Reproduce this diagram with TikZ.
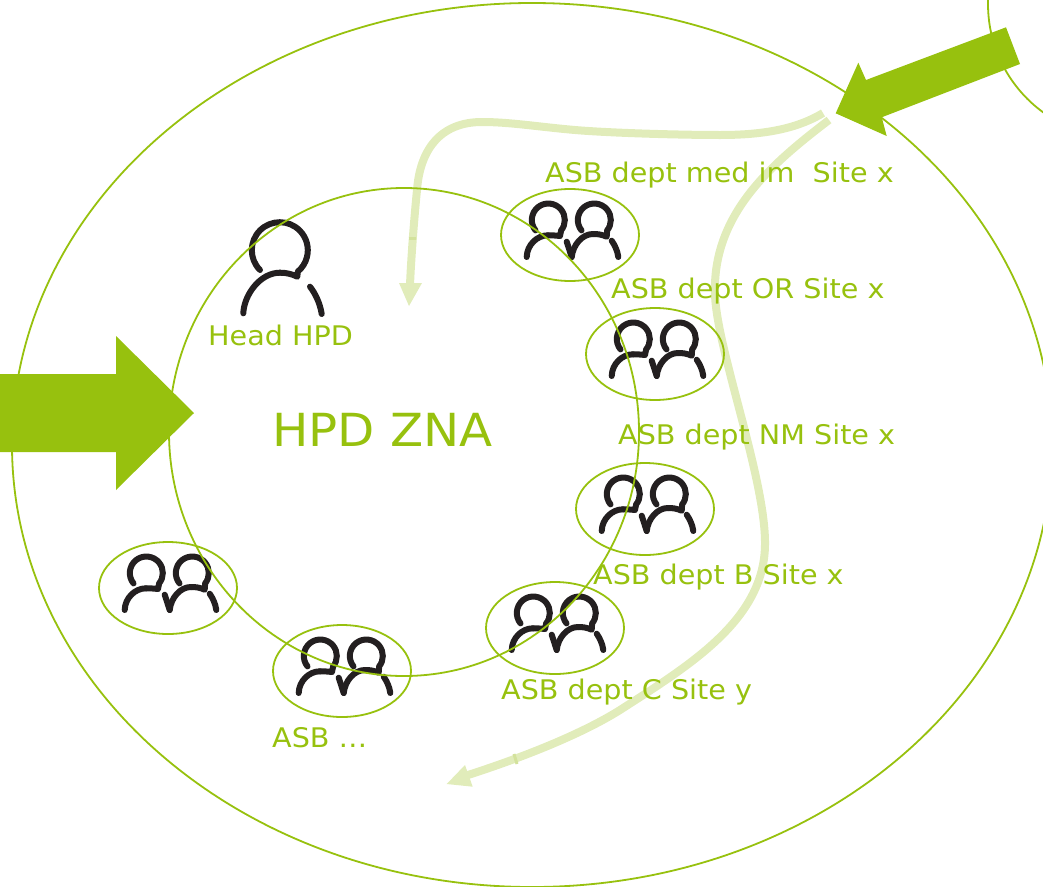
\documentclass[tikz,border=0pt]{standalone}
\usepackage{fontspec}
\setmainfont[FakeStretch=1.06]{DejaVu Sans}
\definecolor{zgreen}{HTML}{97C10E}
\definecolor{zlight}{HTML}{E1ECBA}
\definecolor{ztick}{HTML}{D3E29C}
\definecolor{zink}{HTML}{231F20}
\tikzset{
  ring/.style={draw=zgreen,line width=1.8pt,fill=none},
  bigarrow/.style={fill=zgreen,draw=none},
  flow/.style={draw=zlight,line width=8pt},
  flowhead/.style={fill=zlight,draw=none},
  flowtick/.style={draw=ztick,line width=3pt},
  label/.style={text=zgreen,anchor=base west,inner sep=0pt,font=\fontsize{27}{30}\selectfont},
  title/.style={text=zgreen,anchor=base west,inner sep=0pt,font=\fontsize{45.6}{52}\selectfont},
  ink/.style={draw=zink,line width=6pt,line cap=round,line join=round},
  pair/.pic={
    \path[ink] (-34.5,-4.6) arc[start angle=141,end angle=399,radius=16.5]
      -- (-10,1) .. controls (-14,0.5) and (-18,0.3) .. (-22,0.3);
    \path[ink] (-43.3,22) .. controls (-43,10) and (-33,0.3) .. (-22,0.3);
    \path[ink] (11.5,-4.6) arc[start angle=141,end angle=399,radius=16.5]
      -- (36.7,1.7) .. controls (32,-0.5) and (28,-1) .. (23,-1);
    \path[ink] (1.7,22) .. controls (3,10) and (12,-1) .. (23,-1);
    \path[ink] (-3.3,6.7) -- (1.7,22);
    \path[ink] (41.7,5.7) .. controls (45,10.5) and (47.5,16) .. (48.3,22);
  }
}
\begin{document}
\begin{tikzpicture}[x=1pt,y=-1pt]
\useasboundingbox (0,0) rectangle (1043,886);
\begin{scope}
\clip (0,0) rectangle (1043,886);
% flows
\coordinate (fa) at (823,113);
\coordinate (fb) at (410,285);
\coordinate (fc) at (829,120);
\coordinate (fd) at (468,775);
\draw[flow] (fa) .. controls (795,130) and (760,135) .. (720,135)
  .. controls (680,135) and (610,133) .. (575,130)
  .. controls (540,127) and (510,122) .. (482,122)
  .. controls (440,122) and (420,150) .. (417,190)
  .. controls (414,220) and (411,260) .. (fb);
\fill[flowhead] (399,283) -- (422,283) -- (409,306) -- cycle;
\draw[flowtick] (408.5,238) -- (415.5,238);
\draw[flow] (fc) .. controls (770,165) and (712,215) .. (715,295)
  .. controls (717,350) and (766,480) .. (765,545)
  .. controls (764,620) and (690,665) .. (620,710)
  .. controls (585,732) and (530,755) .. (fd);
\fill[flowhead] (465,765) -- (472.7,786.7) -- (446.7,784) -- cycle;
\draw[flowtick] (514,754) -- (517,764);
% people
\path[ink] (260,270) arc[start angle=135,end angle=410,radius=28]
  -- (297.3,276.7) .. controls (292,274) and (286,272.7) .. (280,272.7);
\path[ink] (243.3,313.3) .. controls (244,295) and (260,272.7) .. (280,272.7);
\path[ink] (310,286.7) .. controls (315,293) and (320,303) .. (321.7,314);
\pic at (570,235) {pair};
\pic at (655,354) {pair};
\pic at (645,509) {pair};
\pic at (555,628) {pair};
\pic at (342,671) {pair};
\pic at (168,588) {pair};
% rings
\draw[ring] (532,445) ellipse[x radius=520,y radius=442];
\draw[ring] (404,432) ellipse[x radius=235,y radius=244];
\draw[ring] (1122,4) circle[radius=134];
\draw[ring] (570,235) ellipse[x radius=69,y radius=46];
\draw[ring] (655,354) ellipse[x radius=69,y radius=46];
\draw[ring] (645,509) ellipse[x radius=69,y radius=46];
\draw[ring] (555,628) ellipse[x radius=69,y radius=46];
\draw[ring] (342,671) ellipse[x radius=69,y radius=46];
\draw[ring] (168,588) ellipse[x radius=69,y radius=46];
% arrows
\fill[bigarrow] (0,374) -- (116,374) -- (116,336) -- (194,413) -- (116,490) -- (116,452) -- (0,452) -- cycle;
\fill[bigarrow] (1006,27.3) -- (1020,64) -- (881.7,117.3) -- (886.7,136) -- (835.7,113.3) -- (858.3,62.7) -- (866,80) -- cycle;
\end{scope}
% labels
\node[label] (t1) at (545,182) {ASB dept med im\ \ Site x};
\node[label] (t2) at (611,298) {ASB dept OR Site x};
\node[label] (t3) at (618,444) {ASB dept NM Site x};
\node[label] (t4) at (593,584) {ASB dept B Site x};
\node[label] (t5) at (501,699) {ASB dept C Site y};
\node[label] (t6) at (272,747) {ASB …};
\node[label] (t7) at (208,345) {Head HPD};
\node[title] (t8) at (272,446) {HPD ZNA};
\end{tikzpicture}
\end{document}
